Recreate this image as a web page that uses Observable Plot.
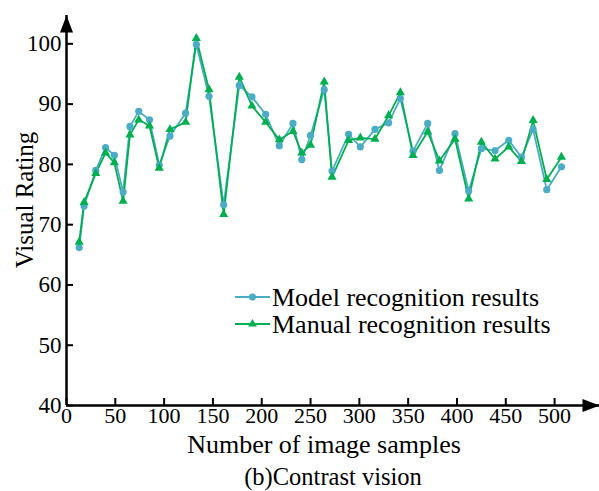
<!DOCTYPE html>
<html>
<head>
<meta charset="utf-8">
<script src="https://cdn.jsdelivr.net/npm/d3@7"></script>
<script src="https://cdn.jsdelivr.net/npm/@observablehq/plot@0.6"></script>
<style>
  body { margin: 0; background: #fff; }
</style>
</head>
<body>
<div id="chart"></div>
<script>
// Number of image samples at each measurement
const samples = [13, 18, 30, 40, 49, 58, 65, 74, 85, 95, 106, 122, 133, 146, 161, 177, 190, 204, 218, 232, 241,
  250, 264, 272, 289, 301, 316, 330, 342, 355, 370, 382, 398, 412, 425, 439, 453, 466, 478, 492, 507];

// Visual rating given by the model
const modelRating = [66.2, 73.1, 79.0, 82.8, 81.5, 75.4, 86.3, 88.8, 87.4, 79.9, 84.7, 88.5, 99.9, 91.3, 73.3,
  93.1, 91.2, 88.3, 83.1, 86.8, 80.8, 84.8, 92.4, 78.9, 85.0, 82.9, 85.8, 86.9, 90.9, 82.2, 86.8, 79.0, 85.1,
  75.6, 82.6, 82.3, 84.0, 81.2, 85.8, 75.8, 79.6];

// Visual rating given by manual recognition
const manualRating = [67.1, 73.7, 78.5, 81.9, 80.3, 73.9, 84.9, 87.4, 86.4, 79.4, 85.8, 87.0, 100.9, 92.4, 71.7,
  94.5, 89.7, 87.0, 84.1, 85.5, 81.9, 83.2, 93.7, 77.9, 84.0, 84.4, 84.2, 88.1, 91.9, 81.5, 85.4, 80.6, 84.2,
  74.3, 83.7, 80.9, 82.9, 80.5, 87.3, 77.5, 81.2];

const seriesNames = ["Model recognition results", "Manual recognition results"];
const xTicks = [0, 50, 100, 150, 200, 250, 300, 350, 400, 450, 500];
const yTicks = [40, 50, 60, 70, 80, 90, 100];
const xTitle = "Number of image samples";
const yTitle = "Visual Rating";
const caption = "(b)Contrast vision";

const colors = ["#4bacc6", "#00b050"];
const serif = "'Liberation Serif', 'Times New Roman', serif";

const xDomain = [0, 546];
const yDomain = [40, 104.7];

const rows = samples.flatMap((s, i) => [
  {sample: s, rating: modelRating[i], series: seriesNames[0]},
  {sample: s, rating: manualRating[i], series: seriesNames[1]}
]);
const model = rows.filter(d => d.series === seriesNames[0]);
const manual = rows.filter(d => d.series === seriesNames[1]);

// filled arrowheads, tip at the symbol origin
const arrowRight = {draw(ctx) { ctx.moveTo(0, 0); ctx.lineTo(-17, -6.5); ctx.lineTo(-17, 6.5); ctx.closePath(); }};
const arrowUp = {draw(ctx) { ctx.moveTo(0, 0); ctx.lineTo(-6.5, 17); ctx.lineTo(6.5, 17); ctx.closePath(); }};

// legend, axis titles and caption
function decorations(index, scales, values, dims) {
  const g = d3.create("svg:g").attr("font-family", serif).attr("fill", "#000");
  const lg = g.append("g").attr("font-size", 26).attr("text-anchor", "start");
  seriesNames.forEach((name, i) => {
    const y = 297 + i * 27;
    lg.append("line").attr("x1", 235).attr("x2", 270).attr("y1", y).attr("y2", y)
      .attr("stroke", colors[i]).attr("stroke-width", 2);
    lg.append("path")
      .attr("d", d3.symbol(i ? d3.symbolTriangle : d3.symbolCircle, i ? 34 : 40)())
      .attr("transform", `translate(252.5,${y})`).attr("fill", colors[i]);
    lg.append("text").attr("x", 272).attr("y", y).attr("dy", "0.35em").text(name);
  });
  g.append("text").attr("x", 324).attr("y", 444).attr("dy", "0.35em")
    .attr("text-anchor", "middle").attr("font-size", 26).text(xTitle);
  g.append("text").attr("x", 333).attr("y", 476).attr("dy", "0.35em")
    .attr("text-anchor", "middle").attr("font-size", 24.5).text(caption);
  g.append("text").attr("transform", "translate(24,200) rotate(-90)").attr("dy", "0.35em")
    .attr("text-anchor", "middle").attr("font-size", 25).text(yTitle);
  return g.node();
}

const chart = Plot.plot({
  width: 599,
  height: 491,
  marginLeft: 66,
  marginRight: 0,
  marginTop: 15,
  marginBottom: 86,
  style: {fontFamily: serif, fontSize: "22px", color: "#000", background: "#fff"},
  x: {domain: xDomain},
  y: {domain: yDomain},
  marks: [
    Plot.axisX({ticks: xTicks, tickSize: -7, tickPadding: 9, strokeWidth: 2, label: null, fontSize: 22}),
    Plot.axisY({ticks: yTicks, tickSize: -7, tickPadding: 12, strokeWidth: 2, label: null, fontSize: 23}),
    Plot.ruleY([yDomain[0]], {stroke: "#000", strokeWidth: 2.5}),
    Plot.ruleX([xDomain[0]], {stroke: "#000", strokeWidth: 2.5}),
    Plot.dot([{x: xDomain[1], y: yDomain[0]}], {x: "x", y: "y", symbol: arrowRight, fill: "#000", r: 5}),
    Plot.dot([{x: xDomain[0], y: yDomain[1]}], {x: "x", y: "y", symbol: arrowUp, fill: "#000", r: 5}),
    Plot.line(model, {x: "sample", y: "rating", stroke: colors[0], strokeWidth: 1.8}),
    Plot.line(manual, {x: "sample", y: "rating", stroke: colors[1], strokeWidth: 1.8}),
    Plot.dot(model, {x: "sample", y: "rating", symbol: "circle", fill: colors[0], r: 3.6}),
    Plot.dot(manual, {x: "sample", y: "rating", symbol: "triangle", fill: colors[1], r: 3.4}),
    decorations
  ]
});
document.getElementById("chart").append(chart);
</script>
</body>
</html>
